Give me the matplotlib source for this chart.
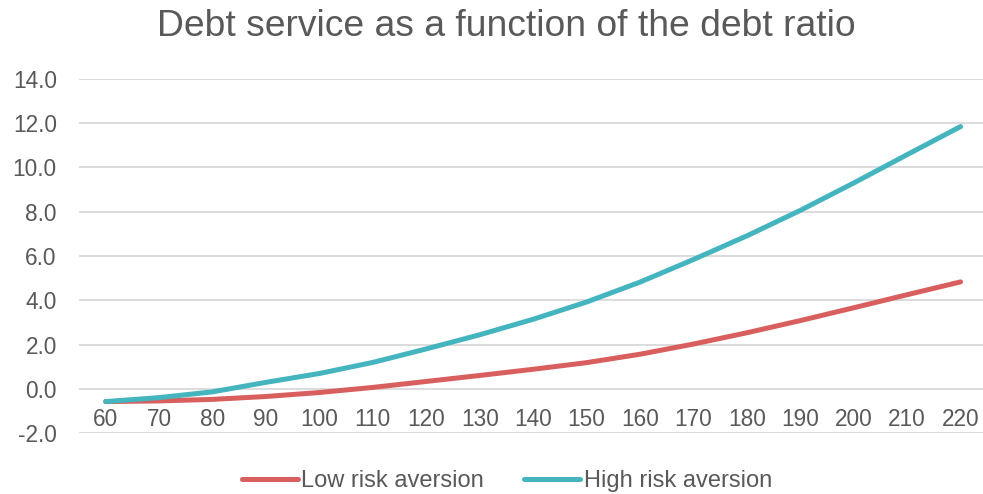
import matplotlib.pyplot as plt

plt.rcParams['font.family'] = ['Liberation Sans', 'DejaVu Sans']

# debt ratio categories and debt service for two risk-aversion settings
debt_ratio = [60, 70, 80, 90, 100, 110, 120, 130, 140, 150, 160, 170, 180, 190, 200, 210, 220]
low_risk = [-0.58, -0.55, -0.48, -0.35, -0.17, 0.06, 0.33, 0.60, 0.88, 1.18, 1.56, 2.02, 2.53, 3.08, 3.66, 4.25, 4.83]
high_risk = [-0.58, -0.40, -0.14, 0.29, 0.69, 1.19, 1.80, 2.44, 3.14, 3.92, 4.82, 5.84, 6.91, 8.06, 9.30, 10.58, 11.85]
y_ticks = [-2, 0, 2, 4, 6, 8, 10, 12, 14]

text_color = '#595959'
red = '#d95f5e'
teal = '#44b4bf'

fig = plt.figure(figsize=(9.83, 4.94), dpi=100)
ax = fig.add_axes([79 / 983, 1 - 433 / 494, 904 / 983, (433 - 79) / 494])

x = list(range(len(debt_ratio)))
ax.plot(x, low_risk, color=red, lw=3.6, solid_capstyle='round', solid_joinstyle='round',
        label='Low risk aversion')
ax.plot(x, high_risk, color=teal, lw=3.6, solid_capstyle='round', solid_joinstyle='round',
        label='High risk aversion')

ax.set_xlim(-0.5, 16.42)
ax.set_ylim(-2, 14)
ax.set_yticks(y_ticks)
ax.set_yticklabels([f'{v:.1f}' for v in y_ticks])
ax.set_xticks(x)
ax.set_xticklabels([str(v) for v in debt_ratio])

ax.grid(axis='y', color='#d9d9d9', lw=1.3)
ax.set_axisbelow(True)
for side in ['top', 'right', 'left']:
    ax.spines[side].set_visible(False)
ax.spines['bottom'].set_position(('data', 0))
ax.spines['bottom'].set_visible(False)
ax.tick_params(axis='both', length=0, labelsize=16.3, labelcolor=text_color)
ax.tick_params(axis='y', pad=16)
ax.tick_params(axis='x', pad=14)

fig.text(506 / 983, 1 - 36.5 / 494, 'Debt service as a function of the debt ratio',
         ha='center', va='baseline', fontsize=26.8, color=text_color)

leg = fig.legend(loc='center', bbox_to_anchor=(507 / 983, 1 - 481 / 494), ncol=2,
                 frameon=False, fontsize=17, handlelength=2.37, handletextpad=0.15,
                 columnspacing=1.7)
for t in leg.get_texts():
    t.set_color(text_color)

fig.savefig('out.png', dpi=100)
